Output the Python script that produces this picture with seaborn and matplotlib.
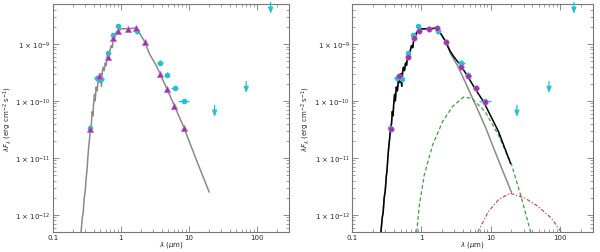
import numpy as np
import pandas as pd
import matplotlib
matplotlib.use("Agg")
import matplotlib.pyplot as plt
import seaborn as sns

# ---- stellar photosphere model (grey) ----
star_lam = [0.255, 0.262, 0.272, 0.28, 0.29, 0.30, 0.31, 0.32, 0.327, 0.335, 0.345,
            0.358, 0.37, 0.38, 0.39, 0.397, 0.41, 0.42, 0.434, 0.45, 0.465, 0.48,
            0.49, 0.505, 0.52, 0.535, 0.55, 0.57, 0.59, 0.61, 0.63, 0.66, 0.69,
            0.72, 0.75, 0.78, 0.82, 0.853, 0.92, 1.01, 1.2, 1.45, 1.6, 1.67, 1.75,
            1.92, 2.24, 2.64, 3.31, 3.78, 4.74, 6.09, 8.4, 12.8, 20.0]
star_flux = [3.5e-13, 5.5e-13, 9e-13, 1.1e-12, 2.0e-12, 2.6e-12, 4.5e-12, 6.5e-12,
             9.8e-12, 1.4e-11, 2.0e-11, 3.2e-11, 4.0e-11, 6.5e-11, 5.5e-11, 8.4e-11,
             1.3e-10, 1.0e-10, 1.75e-10, 1.5e-10, 2.4e-10, 2.7e-10, 2.1e-10, 3.0e-10,
             1.8e-10, 3.2e-10, 3.9e-10, 3.4e-10, 4.6e-10, 4.2e-10, 6.0e-10, 5.4e-10,
             7.6e-10, 9.3e-10, 8.6e-10, 1.25e-9, 1.35e-9, 1.6e-9, 1.72e-9, 1.83e-9,
             1.85e-9, 1.86e-9, 1.9e-9, 1.95e-9, 1.75e-9, 1.49e-9, 1.1e-9, 6.7e-10,
             4.2e-10, 3.0e-10, 1.65e-10, 8.4e-11, 3.5e-11, 9.5e-12, 2.5e-12]

# ---- total model (black, right panel), beyond the star-dominated part ----
tot_ir_lam = [2.6, 2.96, 3.69, 4.58, 5.85, 7.94, 13.0, 19.5]
tot_ir_flux = [7.5e-10, 5.9e-10, 4.2e-10, 2.8e-10, 1.7e-10, 9.6e-11, 2.9e-11, 7.9e-12]

# ---- warm dust component (green dashed) ----
warm_lam = [0.82, 0.858, 0.936, 1.10, 1.45, 2.02, 2.80, 4.11, 5.41, 8.4, 13.0, 20.2, 28.0, 37.7, 40.0]
warm_flux = [3e-13, 5.1e-13, 1.51e-12, 5.0e-12, 1.68e-11, 4.3e-11, 7.9e-11, 1.17e-10,
             1.1e-10, 6.4e-11, 2.5e-11, 7.5e-12, 1.97e-12, 5.1e-13, 3.5e-13]

# ---- cold dust component (red dash-dot) ----
cold_lam = [6.3, 6.59, 9.36, 13.0, 19.1, 31.3, 48.5, 75.1, 104, 112]
cold_flux = [3.5e-13, 5.1e-13, 1.16e-12, 1.84e-12, 2.4e-12, 1.97e-12, 1.41e-12, 8.8e-13, 5.1e-13, 4e-13]

# ---- synthetic photometry (magenta) ----
syn_lam = [0.358, 0.48, 0.645, 0.78, 0.92, 1.27, 1.67, 2.24, 3.78, 4.74, 6.09, 8.4]
syn_left = [3.2e-11, 2.75e-10, 5.9e-10, 1.26e-9, 1.66e-9, 1.83e-9, 1.9e-9, 1.07e-9,
            3.0e-10, 1.6e-10, 8.2e-11, 3.4e-11]
syn_right = [3.2e-11, 2.75e-10, 5.9e-10, 1.26e-9, 1.66e-9, 1.83e-9, 1.9e-9, 1.07e-9,
             4.0e-10, 2.73e-10, 1.68e-10, 9.6e-11]

# ---- observed photometry (cyan) ----
obs_lam = [0.355, 0.44, 0.52, 0.645, 0.76, 0.90, 1.73, 3.78, 4.74, 6.2, 8.4]
obs_flux = [3.4e-11, 2.5e-10, 2.4e-10, 6.9e-10, 1.44e-9, 2.04e-9, 1.67e-9,
            4.7e-10, 2.9e-10, 1.7e-10, 1.0e-10]
obs_lo = [0.33, 0.40, 0.48, 0.60, 0.71, 0.85, 1.62, 3.4, 4.3, 5.5, 6.9]
obs_hi = [0.38, 0.48, 0.56, 0.69, 0.81, 0.95, 1.84, 4.2, 5.2, 6.9, 10.0]

# ---- upper limits (cyan arrows) ----
ul_lam = [24.0, 70.0, 160.0]
ul_flux = [8.4e-11, 2.2e-10, 5.4e-9]

xticks = [0.1, 1, 10, 100]
xticklabels = ["0.1", "1", "10", "100"]
yticks = [1e-12, 1e-11, 1e-10, 1e-9]
yticklabels = [r"1 $\times$ 10$^{-12}$", r"1 $\times$ 10$^{-11}$",
               r"1 $\times$ 10$^{-10}$", r"1 $\times$ 10$^{-9}$"]

sns.set_theme(style="ticks")
plt.rcParams['font.family'] = ['DejaVu Sans']
plt.rcParams['mathtext.fontset'] = 'dejavusans'

CYAN = "#22c3cf"
MAG = "#9b35ab"
GREY = "#8a8a8a"

fig = plt.figure(figsize=(6.0, 2.53), dpi=100)
axL = fig.add_axes([0.088, 0.079, 0.394, 0.901])
axR = fig.add_axes([0.587, 0.079, 0.401, 0.901])

star_df = pd.DataFrame({"lam": star_lam, "flux": star_flux})
cut = star_df[star_df["lam"] < 2.6]
tot_df = pd.concat([cut, pd.DataFrame({"lam": tot_ir_lam, "flux": tot_ir_flux})], ignore_index=True)


def draw_obs(ax):
    lam = np.array(obs_lam)
    fl = np.array(obs_flux)
    xerr = [lam - np.array(obs_lo), np.array(obs_hi) - lam]
    ax.errorbar(lam, fl, xerr=xerr, yerr=0.09 * fl, fmt='o', ms=3, color=CYAN,
                ecolor=CYAN, elinewidth=1.0, capsize=0, zorder=4)
    for l, f in zip(ul_lam, ul_flux):
        ax.annotate("", xy=(l, f / 1.6), xytext=(l, f), annotation_clip=False,
                    arrowprops=dict(arrowstyle="-|>,head_width=0.12,head_length=0.3",
                                    color=CYAN, lw=0.9, shrinkA=0, shrinkB=0), zorder=4)


# left panel
sns.lineplot(data=star_df, x="lam", y="flux", ax=axL, color=GREY, lw=1.1,
             sort=False, estimator=None, zorder=2)
draw_obs(axL)
sns.scatterplot(x=syn_lam, y=syn_left, ax=axL, marker='^', s=22, color=MAG,
                edgecolor="#c67fd2", linewidth=0.4, zorder=5)

# right panel
sns.lineplot(data=star_df, x="lam", y="flux", ax=axR, color=GREY, lw=1.1,
             sort=False, estimator=None, zorder=2)
sns.lineplot(data=tot_df, x="lam", y="flux", ax=axR, color="black", lw=1.1,
             sort=False, estimator=None, zorder=3)
sns.lineplot(x=warm_lam, y=warm_flux, ax=axR, color="#3f9a45", lw=0.9,
             linestyle=(0, (3, 2)), sort=False, estimator=None, zorder=2)
sns.lineplot(x=cold_lam, y=cold_flux, ax=axR, color="#b8506a", lw=0.9,
             linestyle=(0, (3, 1.5, 1, 1.5)), sort=False, estimator=None, zorder=2)
draw_obs(axR)
sns.scatterplot(x=syn_lam, y=syn_right, ax=axR, marker='o', s=16, color=MAG,
                edgecolor="#c67fd2", linewidth=0.4, zorder=5)

for ax, lx in ((axL, -0.163), (axR, -0.168)):
    ax.set_xscale('log')
    ax.set_yscale('log')
    ax.set_xlim(0.1, 300)
    ax.set_ylim(5e-13, 5e-9)
    ax.set_xticks(xticks)
    ax.set_xticklabels(xticklabels)
    ax.set_yticks(yticks)
    ax.set_yticklabels(yticklabels)
    ax.tick_params(which='both', direction='in', top=True, right=True,
                   labelsize=5, color="#777777", pad=1.5)
    ax.tick_params(which='major', length=4, width=0.6)
    ax.tick_params(which='minor', length=2, width=0.5)
    for s in ax.spines.values():
        s.set_color("#777777")
        s.set_linewidth(0.8)
    ax.set_xlabel(r"$\lambda$ ($\mu$m)", fontsize=5, labelpad=-1)
    ax.set_ylabel(r"$\lambda F_\lambda$ (erg cm$^{-2}$ s$^{-1}$)", fontsize=5)
    ax.yaxis.set_label_coords(lx, 0.5)

fig.savefig("out.png", dpi=100)
